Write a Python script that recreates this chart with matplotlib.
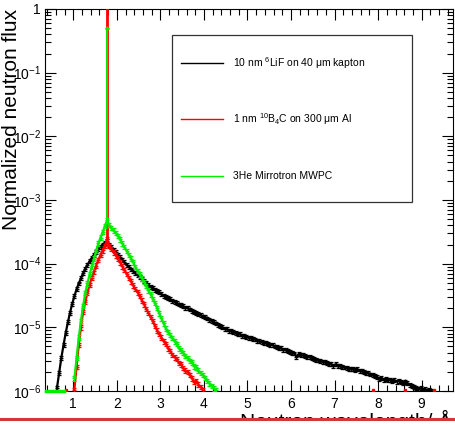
import numpy as np
import matplotlib
matplotlib.use("Agg")
import matplotlib.pyplot as plt
from matplotlib.patches import Rectangle
from matplotlib.lines import Line2D
from matplotlib.ticker import FixedLocator, MultipleLocator, LogLocator, NullFormatter

plt.rcParams['font.family'] = ['Liberation Sans', 'DejaVu Sans']
plt.rcParams['mathtext.fontset'] = 'custom'
plt.rcParams['mathtext.rm'] = 'Liberation Sans'
plt.rcParams['mathtext.it'] = 'Liberation Sans:italic'
plt.rcParams['mathtext.bf'] = 'Liberation Sans:bold'

# ---- histogram binning (Angstrom) ----
BIN = 0.05
LINE_POS = 1.775          # monochromatic line position

# 10 nm 6LiF on 40 um kapton, flux in units of 1e-6, first bin centre 0.625
LIF_START = 0.625
LIF_E6 = [
    1.12, 1.91, 3.31, 5.25, 8.13, 12.0, 17.0, 23.4, 30.9, 39.8,
    49.0, 58.9, 70.8, 83.2, 95.5, 110, 123, 138, 155, 170,
    186, 200, 214, 226, 200, 182, 166, 151, 138, 126,
    115, 105, 95.5, 89.1, 81.3, 75.9, 70.8, 66.1, 61.7, 57.5,
    53.7, 50.1, 46.8, 43.7, 41.7, 38.9, 37.2, 35.5, 33.1, 31.6,
    30.2, 28.8, 27.5, 26.3, 25.1, 24.0, 22.9, 22.4, 21.4, 20.4,
    20.0, 19.1, 18.2, 17.4, 17.0, 16.2, 15.5, 14.8, 14.5, 13.8,
    13.2, 12.6, 12.0, 11.5, 11.0, 10.5, 10.0, 9.55, 9.33, 8.91,
    8.71, 8.51, 8.13, 7.94, 7.76, 7.41, 7.24, 7.08, 6.92, 6.76,
    6.61, 6.46, 6.17, 6.03, 5.89, 5.75, 5.62, 5.50, 5.37, 5.25,
    5.01, 4.90, 4.79, 4.68, 4.47, 4.37, 4.27, 4.17, 3.98, 3.89,
    3.47, 3.80, 3.72, 3.63, 3.55, 3.47, 3.39, 3.31, 3.16, 3.09,
    3.02, 2.95, 2.88, 2.82, 2.75, 2.69, 2.63, 2.51, 2.63, 2.45,
    2.51, 2.40, 2.34, 2.29, 2.24, 2.24, 2.19, 2.14, 2.19, 2.09,
    2.04, 2.00, 1.95, 1.91, 1.82, 1.78, 1.70, 1.66, 1.55, 1.62,
    1.51, 1.55, 1.48, 1.51, 1.45, 1.48, 1.41, 1.45, 1.38, 1.35,
    1.41, 1.32, 1.26, 1.20, 1.15, 1.12, 1.07, 1.10, 1.05, 1.07,
    1.02, 1.05, 1.02,
]

# 1 nm 10B4C on 300 um Al, first bin centre 1.025
B4C_START = 1.025
B4C_E6 = [
    1.05, 2.40, 5.25, 10.0, 17.4, 25.1, 34.7, 46.8, 60.3, 75.9,
    93.3, 115, 138, 162, 191, 240, 191, 170, 151, 135,
    120, 105, 91.2, 79.4, 69.2, 60.3, 52.5, 45.7, 39.8, 35.5,
    30.9, 26.3, 22.9, 19.5, 17.0, 14.5, 12.6, 10.5, 8.91, 7.94,
    6.92, 6.03, 5.50, 4.68, 4.27, 3.72, 3.39, 3.16, 2.75, 2.63,
    2.29, 2.09, 2.00, 1.78, 1.58, 1.38, 1.45, 1.26, 1.15, 1.05,
]
B4C_LINE_PEAK = 1.5
B4C_STRAY_X = [0.825, 7.875, 8.625, 9.275]   # isolated bins at the floor

# 3He Mirrotron MWPC, first bin centre 1.025
HE3_START = 1.025
HE3_E6 = [
    1.58, 3.31, 6.92, 12.6, 21.9, 34.7, 49.0, 67.6, 91.2, 120,
    158, 209, 257, 316, 389, 479, 407, 363, 331, 302,
    275, 240, 209, 182, 158, 138, 120, 105, 89.1, 77.6,
    67.6, 58.9, 51.3, 44.7, 38.0, 33.1, 28.2, 24.0, 20.0, 16.6,
    13.8, 11.5, 9.55, 8.51, 7.59, 6.76, 6.03, 5.50, 4.68, 4.37,
    3.98, 3.55, 3.31, 2.95, 2.82, 2.45, 2.34, 2.09, 1.91, 1.78,
    1.62, 1.45, 1.32, 1.20, 1.10, 1.02,
]
HE3_LINE_PEAK = 0.5
HE3_FLOOR_START = 0.375
HE3_FLOOR_E6 = [1.0, 1.0, 1.0, 1.0, 1.0, 1.0, 1.0, 1.0, 1.0]

REL_ERR = {'lif': 0.07, 'b4c': 0.08, 'he3': 0.08}

LABELS = [r'10 nm $^{6}$LiF on 40 μm kapton',
          r'1 nm $^{10}$B$_{4}$C on 300 μm Al',
          '3He Mirrotron MWPC']
COLORS = ['black', '#ff0000', '#00ee00']

Y_TICKS = [1e-6, 1e-5, 1e-4, 1e-3, 1e-2, 1e-1, 1]
Y_TICKLABELS = [r'$10^{-6}$', r'$10^{-5}$', r'$10^{-4}$', r'$10^{-3}$',
                r'$10^{-2}$', r'$10^{-1}$', '1']

W, H = 455, 425
fig = plt.figure(figsize=(W / 100, H / 100), dpi=100)
ax = fig.add_axes([45 / W, 1 - 391 / H, 408 / W, 382 / H])


def centres(start, n):
    return start + BIN * np.arange(n)


def draw_hist(start, vals_e6, rel, color, z):
    x = centres(start, len(vals_e6))
    y = np.asarray(vals_e6) * 1e-6
    ax.errorbar(x, y, yerr=rel * y, fmt='-', color=color, marker='+', ms=3.5,
                mew=0.9, lw=1.6, elinewidth=0.9, capsize=1.3, zorder=z)
    return x, y


# LiF
draw_hist(LIF_START, LIF_E6, REL_ERR['lif'], COLORS[0], 2)

# B4C with its monochromatic line
xb, yb = draw_hist(B4C_START, B4C_E6, REL_ERR['b4c'], COLORS[1], 3)
base = yb[np.argmin(np.abs(xb - LINE_POS))]
ax.vlines(LINE_POS, base, B4C_LINE_PEAK, color=COLORS[1], lw=2.0, zorder=3)
ax.plot(B4C_STRAY_X, [1.02e-6] * len(B4C_STRAY_X), ls='none', marker='s',
        ms=1.5, color=COLORS[1], zorder=3)

# 3He with its monochromatic line and the empty-bin floor
xh, yh = draw_hist(HE3_START, HE3_E6, REL_ERR['he3'], COLORS[2], 4)
base = yh[np.argmin(np.abs(xh - LINE_POS))]
ax.vlines(LINE_POS, base, HE3_LINE_PEAK, color=COLORS[2], lw=1.4, zorder=4)
ax.errorbar([LINE_POS], [HE3_LINE_PEAK], yerr=[0.02 * HE3_LINE_PEAK], fmt='+',
            color=COLORS[2], ms=3, capsize=1.2, zorder=4)
xf = centres(HE3_FLOOR_START, len(HE3_FLOOR_E6))
ax.plot(xf, np.asarray(HE3_FLOOR_E6) * 1e-6, color=COLORS[2], lw=2.5,
        zorder=4, clip_on=False)

# ---- axes ----
ax.set_yscale('log')
ax.set_xlim(0.35, 9.72)
ax.set_ylim(1e-6, 1)
ax.xaxis.set_major_locator(MultipleLocator(1))
ax.xaxis.set_minor_locator(MultipleLocator(0.2))
ax.yaxis.set_major_locator(FixedLocator(Y_TICKS))
ax.set_yticklabels(Y_TICKLABELS)
ax.yaxis.set_minor_locator(LogLocator(base=10, subs=np.arange(2, 10)))
ax.yaxis.set_minor_formatter(NullFormatter())
ax.tick_params(which='both', direction='in', top=True, right=True,
               width=0.8, labelsize=10, colors='black')
ax.tick_params(which='major', length=8)
ax.tick_params(which='minor', length=4.3)
ax.tick_params(axis='x', pad=4)
ax.tick_params(axis='y', pad=3)
for s in ax.spines.values():
    s.set_linewidth(0.8)

fig.text(2 / W, 1 - 9 / H, 'Normalized neutron flux', rotation=90,
         ha='left', va='top', fontsize=15)
fig.text(452 / W, 1 - 410 / H, 'Neutron wavelength/ Å', ha='right', va='top',
         fontsize=15)

# ---- legend box ----
box_l, box_t, box_r, box_b = 172, 35, 412, 202
fig.add_artist(Rectangle((box_l / W, 1 - box_b / H), (box_r - box_l) / W,
                         (box_b - box_t) / H, transform=fig.transFigure,
                         facecolor='white', edgecolor='#333333', lw=0.9,
                         zorder=10))
for row_y, lab, col in zip([63, 119, 176], LABELS, COLORS):
    fig.add_artist(Line2D([181 / W, 223 / W], [1 - row_y / H] * 2,
                          transform=fig.transFigure, color=col, lw=1.0,
                          zorder=11))
    fig.text(233 / W, 1 - row_y / H, lab, ha='left', va='center',
             fontsize=7.5, zorder=11)

# page edge below the plot
fig.add_artist(Rectangle((0, 0), 1, 5 / H, transform=fig.transFigure,
                         facecolor='white', edgecolor='none', zorder=20))
fig.add_artist(Line2D([0, 1], [1 - 419 / H] * 2, transform=fig.transFigure,
                      color='#d0383c', lw=2.2, zorder=21))

fig.savefig('out.png', dpi=100)
